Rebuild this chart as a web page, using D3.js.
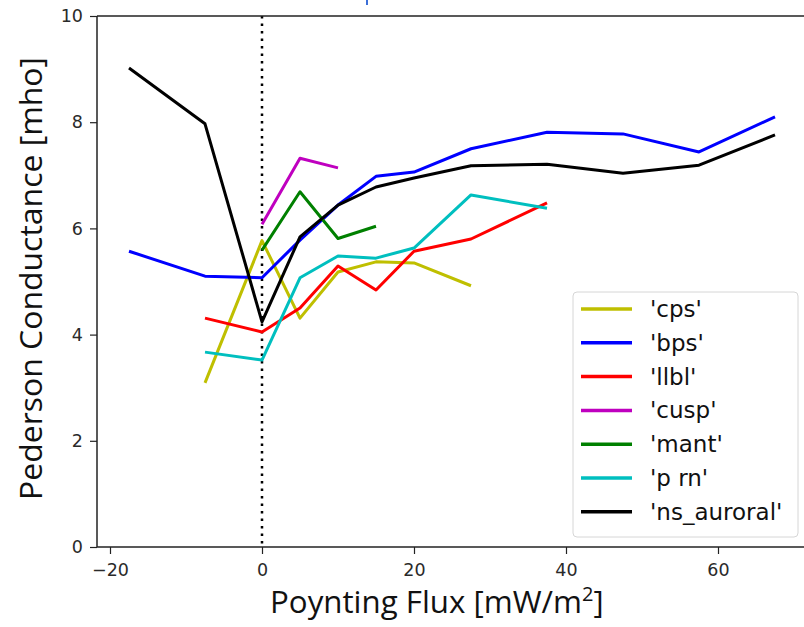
<!DOCTYPE html>
<html>
<head>
<meta charset="utf-8">
<script src="https://cdn.jsdelivr.net/npm/d3@7"></script>
<style>
  body { margin: 0; background: #fff; }
  svg { display: block; }
  .tick text { font-family: "DejaVu Sans", sans-serif; font-size: 17.5px; fill: #2a2a2a; }
</style>
</head>
<body>
<script>
// flux bins (mW/m^2)
const fluxBins = [-17.5, -7.5, 0, 5, 10, 15, 20, 27.5, 37.5, 47.5, 57.5, 67.5]

// conductance per region, null where region has no data
const cps   = [null, 3.09, 5.77, 4.31, 5.18, 5.37, 5.35, 4.92, null, null, null, null]
const bps   = [5.57, 5.10, 5.07, 5.78, 6.44, 6.98, 7.06, 7.50, 7.81, 7.78, 7.44, 8.10]
const llbl  = [null, 4.31, 4.05, 4.50, 5.29, 4.84, 5.57, 5.80, 6.48, null, null, null]
const cusp  = [null, null, 6.08, 7.32, 7.14, null, null, null, null, null, null, null]
const mant  = [null, null, 5.59, 6.69, 5.81, 6.04, null, null, null, null, null, null]
const prn   = [null, 3.67, 3.52, 5.07, 5.48, 5.44, 5.63, 6.63, 6.38, null, null, null]
const nsAur = [9.02, 7.97, 4.24, 5.84, 6.44, 6.78, 6.95, 7.18, 7.21, 7.04, 7.19, 7.76]

const seriesNames = ["'cps'", "'bps'", "'llbl'", "'cusp'", "'mant'", "'p rn'", "'ns_auroral'"]
const seriesValues = [cps, bps, llbl, cusp, mant, prn, nsAur]
const seriesColors = ['#bfbf00', '#0000ff', '#ff0000', '#bf00bf', '#008000', '#00bfbf', '#000000']

const xTicks = [-20, 0, 20, 40, 60]
const yTicks = [0, 2, 4, 6, 8, 10]

const W = 804, H = 627
const plot = { left: 97, top: 16, right: 806, bottom: 547 }

const svg = d3.select('body').append('svg')
  .attr('width', W)
  .attr('height', H)

const x = d3.scaleLinear().domain([-20 - 13 / 7.6, 0 + (plot.right - 262) / 7.6]).range([plot.left, plot.right])
const y = d3.scaleLinear().domain([0, 10]).range([plot.bottom, plot.top])

// stray bit of the cropped title
svg.append('rect').attr('x', 366).attr('y', 0).attr('width', 2).attr('height', 5).attr('fill', '#3b6fd8')

// zero line
svg.append('line')
  .attr('x1', x(0)).attr('x2', x(0))
  .attr('y1', y(10)).attr('y2', y(0))
  .attr('stroke', '#000')
  .attr('stroke-width', 2.5)
  .attr('stroke-dasharray', '2.5,5')

const line = d3.line()
  .defined(d => d[1] != null)
  .x(d => x(d[0]))
  .y(d => y(d[1]))

seriesValues.forEach((vals, i) => {
  svg.append('path')
    .datum(fluxBins.map((f, j) => [f, vals[j]]))
    .attr('d', line)
    .attr('fill', 'none')
    .attr('stroke', seriesColors[i])
    .attr('stroke-width', 3)
    .attr('stroke-linejoin', 'round')
})

// axes
const xAxis = svg.append('g')
  .attr('transform', `translate(0,${plot.bottom})`)
  .call(d3.axisBottom(x).tickValues(xTicks).tickSize(7).tickPadding(10).tickFormat(d => d < 0 ? '\u2212' + Math.abs(d) : d))
const yAxis = svg.append('g')
  .attr('transform', `translate(${plot.left},0)`)
  .call(d3.axisLeft(y).tickValues(yTicks).tickSize(7).tickPadding(7))

;[xAxis, yAxis].forEach(a => {
  a.select('.domain').remove()
  a.selectAll('.tick line').attr('stroke', '#222').attr('stroke-width', 1.2)
})

// spines
svg.append('line').attr('x1', plot.left).attr('x2', plot.right).attr('y1', plot.bottom).attr('y2', plot.bottom)
  .attr('stroke', '#222').attr('stroke-width', 1.5)
svg.append('line').attr('x1', plot.left).attr('x2', plot.right).attr('y1', plot.top).attr('y2', plot.top)
  .attr('stroke', '#222').attr('stroke-width', 1.5)
svg.append('line').attr('x1', plot.left).attr('x2', plot.left).attr('y1', plot.top).attr('y2', plot.bottom)
  .attr('stroke', '#222').attr('stroke-width', 1.5)

// axis labels
const xl = svg.append('text')
  .attr('x', 270).attr('y', 613)
  .style('font-family', '"Open Sans", sans-serif')
  .style('font-size', '31px')
  .attr('fill', '#111')
xl.append('tspan').attr('textLength', 312).attr('lengthAdjust', 'spacingAndGlyphs').text('Poynting Flux [mW/m')
xl.append('tspan').attr('dy', -12).style('font-size', '20px').text('2')
xl.append('tspan').attr('dy', 12).text(']')

svg.append('text')
  .attr('transform', `translate(42,500) rotate(-90)`)
  .attr('textLength', 443)
  .attr('lengthAdjust', 'spacingAndGlyphs')
  .style('font-family', '"Open Sans", sans-serif')
  .style('font-size', '31px')
  .attr('fill', '#111')
  .text('Pederson Conductance [mho]')

// legend
const legend = svg.append('g').attr('transform', 'translate(573,292)')
legend.append('rect')
  .attr('width', 225).attr('height', 245)
  .attr('rx', 4)
  .attr('fill', '#fff').attr('fill-opacity', 0.85)
  .attr('stroke', '#d6d6d6')

seriesNames.forEach((name, i) => {
  const row = legend.append('g').attr('transform', `translate(0,${17 + i * 33.8})`)
  row.append('line')
    .attr('x1', 8).attr('x2', 59)
    .attr('stroke', seriesColors[i]).attr('stroke-width', 3.5)
  row.append('text')
    .attr('x', 77).attr('dy', '0.35em')
    .style('font-family', '"DejaVu Sans", sans-serif')
    .style('font-size', '23px')
    .attr('fill', '#111')
    .text(name)
})
</script>
</body>
</html>
